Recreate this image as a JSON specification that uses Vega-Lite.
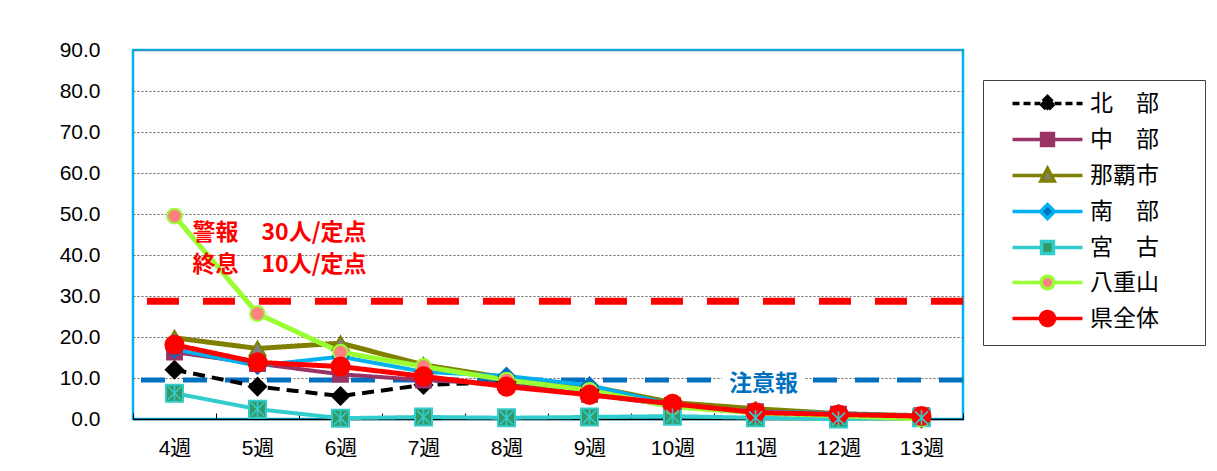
{
  "$schema": "https://vega.github.io/schema/vega-lite/v6.json",
  "width": 830,
  "height": 369,
  "autosize": {"type": "none"},
  "padding": {"left": 133, "top": 50, "right": 254, "bottom": 52},
  "background": "white",
  "config": {
    "view": {"stroke": "#00B0F0", "strokeWidth": 2.5},
    "font": "Liberation Sans, Noto Sans CJK JP, sans-serif",
    "axisX": {"title": null, "labelAngle": 0, "labelFontSize": 21, "labelColor": "#000", "domainColor": "#000", "domainWidth": 1.5, "tickBand": "extent", "tickSize": -6, "tickColor": "#000", "labelPadding": 24, "grid": false},
    "axisY": {"title": null, "values": [0, 10, 20, 30, 40, 50, 60, 70, 80, 90], "format": ".1f", "labelFontSize": 21, "labelColor": "#000", "ticks": false, "domain": false, "labelPadding": 33, "grid": true, "gridColor": "#666", "gridDash": [2, 2], "gridWidth": 1},
    "legend": {"title": null, "orient": "none", "legendX": 850, "legendY": 30, "fillColor": "white", "strokeColor": "#404040", "padding": 12, "labelFontSize": 23, "labelColor": "#000", "labelFont": "Noto Sans CJK JP", "symbolSize": 196, "symbolOffset": 41, "labelOffset": 31, "rowPadding": 8, "symbolStrokeWidth": 3.5, "symbolOpacity": 1}
  },
  "datasets": {
    "series": [
      {"week": "4週", "area": "北　部", "v": 12.0}, {"week": "5週", "area": "北　部", "v": 7.9}, {"week": "6週", "area": "北　部", "v": 5.6}, {"week": "7週", "area": "北　部", "v": 8.3}, {"week": "8週", "area": "北　部", "v": 9.0}, {"week": "9週", "area": "北　部", "v": 7.0}, {"week": "10週", "area": "北　部", "v": 3.0}, {"week": "11週", "area": "北　部", "v": 1.5}, {"week": "12週", "area": "北　部", "v": 0.5}, {"week": "13週", "area": "北　部", "v": 0.1},
      {"week": "4週", "area": "中　部", "v": 16.3}, {"week": "5週", "area": "中　部", "v": 13.5}, {"week": "6週", "area": "中　部", "v": 10.9}, {"week": "7週", "area": "中　部", "v": 9.5}, {"week": "8週", "area": "中　部", "v": 8.5}, {"week": "9週", "area": "中　部", "v": 6.0}, {"week": "10週", "area": "中　部", "v": 3.3}, {"week": "11週", "area": "中　部", "v": 1.8}, {"week": "12週", "area": "中　部", "v": 1.2}, {"week": "13週", "area": "中　部", "v": 0.8},
      {"week": "4週", "area": "那覇市", "v": 19.8}, {"week": "5週", "area": "那覇市", "v": 17.2}, {"week": "6週", "area": "那覇市", "v": 18.5}, {"week": "7週", "area": "那覇市", "v": 13.2}, {"week": "8週", "area": "那覇市", "v": 10.0}, {"week": "9週", "area": "那覇市", "v": 8.0}, {"week": "10週", "area": "那覇市", "v": 4.0}, {"week": "11週", "area": "那覇市", "v": 2.5}, {"week": "12週", "area": "那覇市", "v": 1.3}, {"week": "13週", "area": "那覇市", "v": 0.8},
      {"week": "4週", "area": "南　部", "v": 17.0}, {"week": "5週", "area": "南　部", "v": 13.0}, {"week": "6週", "area": "南　部", "v": 15.2}, {"week": "7週", "area": "南　部", "v": 11.5}, {"week": "8週", "area": "南　部", "v": 10.5}, {"week": "9週", "area": "南　部", "v": 8.2}, {"week": "10週", "area": "南　部", "v": 3.5}, {"week": "11週", "area": "南　部", "v": 1.8}, {"week": "12週", "area": "南　部", "v": 1.4}, {"week": "13週", "area": "南　部", "v": 0.7},
      {"week": "4週", "area": "宮　古", "v": 6.3}, {"week": "5週", "area": "宮　古", "v": 2.4}, {"week": "6週", "area": "宮　古", "v": 0.2}, {"week": "7週", "area": "宮　古", "v": 0.5}, {"week": "8週", "area": "宮　古", "v": 0.3}, {"week": "9週", "area": "宮　古", "v": 0.5}, {"week": "10週", "area": "宮　古", "v": 0.7}, {"week": "11週", "area": "宮　古", "v": 0.3}, {"week": "12週", "area": "宮　古", "v": 0.0}, {"week": "13週", "area": "宮　古", "v": 0.3},
      {"week": "4週", "area": "八重山", "v": 49.5}, {"week": "5週", "area": "八重山", "v": 25.7}, {"week": "6週", "area": "八重山", "v": 16.3}, {"week": "7週", "area": "八重山", "v": 12.8}, {"week": "8週", "area": "八重山", "v": 9.5}, {"week": "9週", "area": "八重山", "v": 7.0}, {"week": "10週", "area": "八重山", "v": 3.0}, {"week": "11週", "area": "八重山", "v": 1.5}, {"week": "12週", "area": "八重山", "v": 0.8}, {"week": "13週", "area": "八重山", "v": 0.0},
      {"week": "4週", "area": "県全体", "v": 18.1}, {"week": "5週", "area": "県全体", "v": 13.8}, {"week": "6週", "area": "県全体", "v": 12.8}, {"week": "7週", "area": "県全体", "v": 10.4}, {"week": "8週", "area": "県全体", "v": 7.9}, {"week": "9週", "area": "県全体", "v": 5.9}, {"week": "10週", "area": "県全体", "v": 3.7}, {"week": "11週", "area": "県全体", "v": 1.6}, {"week": "12週", "area": "県全体", "v": 1.1}, {"week": "13週", "area": "県全体", "v": 0.7}
    ]
  },
  "layer": [
    {
      "data": {"values": [{"v": 28.7}]},
      "mark": {"type": "rule", "color": "#FF0000", "strokeWidth": 7, "strokeDash": [32, 24]},
      "encoding": {"y": {"field": "v", "type": "quantitative", "scale": {"domain": [0, 90], "nice": false}}}
    },
    {
      "data": {"values": [{"v": 9.5}]},
      "mark": {"type": "rule", "color": "#0070C0", "strokeWidth": 5, "strokeDash": [24, 18]},
      "encoding": {"y": {"field": "v", "type": "quantitative", "scale": {"domain": [0, 90], "nice": false}}}
    },
    {
      "data": {"name": "series"},
      "mark": {"type": "line", "strokeCap": "butt", "strokeJoin": "miter"},
      "encoding": {
        "x": {"field": "week", "type": "nominal", "sort": ["4週", "5週", "6週", "7週", "8週", "9週", "10週", "11週", "12週", "13週"], "scale": {"type": "band", "paddingInner": 0, "paddingOuter": 0}},
        "y": {"field": "v", "type": "quantitative", "scale": {"domain": [0, 90], "nice": false}},
        "detail": {"field": "area", "type": "nominal"},
        "stroke": {"condition": [
          {"test": "datum.area == '中　部'", "value": "#993366"},
          {"test": "datum.area == '那覇市'", "value": "#808000"},
          {"test": "datum.area == '南　部'", "value": "#00B0F0"},
          {"test": "datum.area == '宮　古'", "value": "#33CCCC"},
          {"test": "datum.area == '八重山'", "value": "#99FF33"},
          {"test": "datum.area == '県全体'", "value": "#FF0000"}
        ], "value": "#000000"},
        "strokeDash": {"condition": {"test": "datum.area == '北　部'", "value": [12, 7]}, "value": [1, 0]},
        "strokeWidth": {"condition": {"test": "datum.area == '県全体' || datum.area == '八重山' || datum.area == '那覇市'", "value": 5}, "value": 4}
      }
    },
    {
      "data": {"name": "series"},
      "mark": {"type": "point", "filled": true, "opacity": 1, "strokeWidth": 2},
      "encoding": {
        "x": {"field": "week", "type": "nominal", "sort": ["4週", "5週", "6週", "7週", "8週", "9週", "10週", "11週", "12週", "13週"], "scale": {"type": "band", "paddingInner": 0, "paddingOuter": 0}},
        "y": {"field": "v", "type": "quantitative", "scale": {"domain": [0, 90], "nice": false}},
        "fill": {"condition": [
          {"test": "datum.area == '中　部'", "value": "#993366"},
          {"test": "datum.area == '那覇市'", "value": "#808080"},
          {"test": "datum.area == '南　部'", "value": "#0070C0"},
          {"test": "datum.area == '宮　古'", "value": "#339966"},
          {"test": "datum.area == '八重山'", "value": "#FF8080"},
          {"test": "datum.area == '県全体'", "value": "#FF0000"}
        ], "value": "#000000"},
        "stroke": {"condition": [
          {"test": "datum.area == '中　部'", "value": "#993366"},
          {"test": "datum.area == '那覇市'", "value": "#808000"},
          {"test": "datum.area == '南　部'", "value": "#0070C0"},
          {"test": "datum.area == '宮　古'", "value": "#33CCCC"},
          {"test": "datum.area == '八重山'", "value": "#99FF33"},
          {"test": "datum.area == '県全体'", "value": "#FF0000"}
        ], "value": "#000000"},
        "shape": {"condition": [
          {"test": "datum.area == '中　部' || datum.area == '宮　古'", "value": "square"},
          {"test": "datum.area == '那覇市'", "value": "triangle-up"},
          {"test": "datum.area == '八重山' || datum.area == '県全体'", "value": "circle"}
        ], "value": "diamond"},
        "size": {"condition": [
          {"test": "datum.area == '中　部'", "value": 220},
          {"test": "datum.area == '那覇市'", "value": 260},
          {"test": "datum.area == '南　部'", "value": 260},
          {"test": "datum.area == '宮　古'", "value": 290},
          {"test": "datum.area == '八重山'", "value": 220},
          {"test": "datum.area == '県全体'", "value": 330}
        ], "value": 300}
      }
    },
    {
      "data": {"name": "series"},
      "transform": [{"filter": "datum.area == '宮　古'"}],
      "mark": {"type": "point", "filled": false, "shape": "M-0.75,-0.75L0.75,0.75M-0.75,0.75L0.75,-0.75M0,-0.9V0.9", "size": 290, "stroke": "#33CCCC", "strokeWidth": 1.6, "opacity": 1},
      "encoding": {
        "x": {"field": "week", "type": "nominal", "sort": ["4週", "5週", "6週", "7週", "8週", "9週", "10週", "11週", "12週", "13週"], "scale": {"type": "band", "paddingInner": 0, "paddingOuter": 0}},
        "y": {"field": "v", "type": "quantitative", "scale": {"domain": [0, 90], "nice": false}}
      }
    },
    {
      "data": {"name": "series"},
      "mark": {"type": "point", "filled": true, "opacity": 0},
      "encoding": {
        "x": {"field": "week", "type": "nominal", "sort": ["4週", "5週", "6週", "7週", "8週", "9週", "10週", "11週", "12週", "13週"], "scale": {"type": "band", "paddingInner": 0, "paddingOuter": 0}},
        "y": {"field": "v", "type": "quantitative", "scale": {"domain": [0, 90], "nice": false}},
        "shape": {
          "field": "area", "type": "nominal",
          "scale": {"domain": ["北　部", "中　部", "那覇市", "南　部", "宮　古", "八重山", "県全体"], "range": [
            "M-5,0H-1M1,0H5M0,-1L1,0L0,1L-1,0Z",
            "M-5,0H-0.85M0.85,0H5M-0.85,-0.85H0.85V0.85H-0.85Z",
            "M-5,0H-0.55M0.55,0H5M0,-1L0.95,0.8H-0.95Z",
            "M-5,0H-1M1,0H5M0,-1L1,0L0,1L-1,0Z",
            "M-5,0H-0.85M0.85,0H5M-0.85,-0.85H0.85V0.85H-0.85Z",
            "M-5,0H-0.9M0.9,0H5M0.9,0A0.9,0.9,0,1,1,-0.9,0A0.9,0.9,0,1,1,0.9,0Z",
            "M-5,0H-1M1,0H5M1,0A1,1,0,1,1,-1,0A1,1,0,1,1,1,0Z"
          ]},
          "legend": {"title": null, "labelExpr": "datum.label + '\u2800\u2800'"}
        },
        "fill": {
          "field": "area", "type": "nominal",
          "scale": {"domain": ["北　部", "中　部", "那覇市", "南　部", "宮　古", "八重山", "県全体"], "range": ["#000000", "#993366", "#808080", "#0070C0", "#339966", "#FF8080", "#FF0000"]},
          "legend": {"title": null, "labelExpr": "datum.label + '\u2800\u2800'"}
        },
        "stroke": {
          "field": "area", "type": "nominal",
          "scale": {"domain": ["北　部", "中　部", "那覇市", "南　部", "宮　古", "八重山", "県全体"], "range": ["#000000", "#993366", "#808000", "#00B0F0", "#33CCCC", "#99FF33", "#FF0000"]},
          "legend": {"title": null, "labelExpr": "datum.label + '\u2800\u2800'"}
        },
        "strokeDash": {
          "field": "area", "type": "nominal",
          "scale": {"domain": ["北　部", "中　部", "那覇市", "南　部", "宮　古", "八重山", "県全体"], "range": [[7, 4], [1, 0], [1, 0], [1, 0], [1, 0], [1, 0], [1, 0]]},
          "legend": {"title": null, "labelExpr": "datum.label + '\u2800\u2800'"}
        }
      }
    },
    {
      "data": {"values": [{"week": "4週", "v": 45.3, "t": "警報　30人/定点"}, {"week": "4週", "v": 37.6, "t": "終息　10人/定点"}]},
      "mark": {"type": "text", "align": "left", "baseline": "middle", "dx": 18, "fontSize": 23, "fontWeight": "bold", "color": "#FF0000", "font": "Noto Sans CJK JP"},
      "encoding": {
        "x": {"field": "week", "type": "nominal", "sort": ["4週", "5週", "6週", "7週", "8週", "9週", "10週", "11週", "12週", "13週"], "scale": {"type": "band", "paddingInner": 0, "paddingOuter": 0}},
        "y": {"field": "v", "type": "quantitative", "scale": {"domain": [0, 90], "nice": false}},
        "text": {"field": "t"}
      }
    },
    {
      "data": {"values": [{"week": "11週", "v": 8.6, "t": "注意報"}]},
      "mark": {"type": "text", "align": "center", "baseline": "middle", "dx": 8, "fontSize": 23, "fontWeight": "bold", "fill": "white", "stroke": "white", "strokeWidth": 14, "font": "Noto Sans CJK JP"},
      "encoding": {
        "x": {"field": "week", "type": "nominal", "sort": ["4週", "5週", "6週", "7週", "8週", "9週", "10週", "11週", "12週", "13週"], "scale": {"type": "band", "paddingInner": 0, "paddingOuter": 0}},
        "y": {"field": "v", "type": "quantitative", "scale": {"domain": [0, 90], "nice": false}},
        "text": {"field": "t"}
      }
    },
    {
      "data": {"values": [{"week": "11週", "v": 8.6, "t": "注意報"}]},
      "mark": {"type": "text", "align": "center", "baseline": "middle", "dx": 8, "fontSize": 23, "fontWeight": "bold", "color": "#0070C0", "font": "Noto Sans CJK JP"},
      "encoding": {
        "x": {"field": "week", "type": "nominal", "sort": ["4週", "5週", "6週", "7週", "8週", "9週", "10週", "11週", "12週", "13週"], "scale": {"type": "band", "paddingInner": 0, "paddingOuter": 0}},
        "y": {"field": "v", "type": "quantitative", "scale": {"domain": [0, 90], "nice": false}},
        "text": {"field": "t"}
      }
    }
  ]
}
